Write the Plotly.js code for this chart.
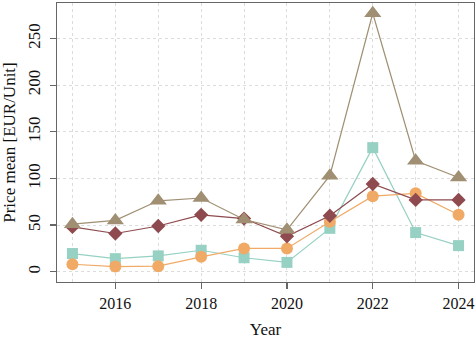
<!DOCTYPE html>
<html>
<head>
<meta charset="utf-8">
<script src="https://cdn.plot.ly/plotly-3.0.1.min.js"></script>
<style>
  html, body { margin: 0; padding: 0; background: #fff; }
  #chart { width: 475px; height: 339px; }
</style>
</head>
<body>
<div id="chart"></div>
<script>
// years on the x axis
const years = [2015, 2016, 2017, 2018, 2019, 2020, 2021, 2022, 2023, 2024];

// price means per series
const triangleSeries = [51, 55, 76, 79, 56, 45, 103, 277, 119, 101];
const diamondSeries = [48, 41, 49, 61, 57, 38, 60, 94, 77, 77];
const squareSeries = [19.5, 14, 17, 23, 15, 10, 46.5, 133, 42, 28];
const circleSeries = [8, 5.5, 6, 16, 25, 25, 53.5, 81, 84, 61];

const xTicks = [2016, 2018, 2020, 2022, 2024];
const yTicks = [0, 50, 100, 150, 200, 250];

const serif = "Liberation Serif, Times New Roman, serif";

function series(y, color, symbol, size) {
  return {
    x: years, y: y,
    type: "scatter", mode: "lines+markers",
    line: { color: color, width: 1.2 },
    marker: { color: color, symbol: symbol, size: size },
    showlegend: false,
    hoverinfo: "skip"
  };
}

const data = [
  series(squareSeries, "#96d1c3", "square", 11),
  series(circleSeries, "#f0aa66", "circle", 12),
  series(diamondSeries, "#8e4a4e", "diamond", 11),
  series(triangleSeries, "#a08f72", "triangle-up", 15)
];

const gridDash = "3px,3px";

const axisCommon = {
  showline: true, mirror: true, linecolor: "#666", linewidth: 1.3,
  ticks: "outside", ticklen: 6, tickcolor: "#666", tickwidth: 1.2,
  showgrid: true, gridcolor: "#dcdcdc", griddash: gridDash, gridwidth: 1,
  zeroline: false
};

const layout = {
  width: 475, height: 339,
  margin: { l: 57, r: 1, t: 3, b: 57 },
  paper_bgcolor: "#fff", plot_bgcolor: "#fff",
  font: { family: serif, color: "#111" },
  xaxis: Object.assign({}, axisCommon, {
    range: [2014.64, 2024.36],
    tickmode: "array", tickvals: xTicks,
    tickfont: { family: serif, size: 16, color: "#111" },
    minor: { dtick: 1, tick0: 2015, showgrid: true, gridcolor: "#dcdcdc", griddash: gridDash, ticks: "" },
    title: { text: "Year", font: { family: serif, size: 17, color: "#111" }, standoff: 12 }
  }),
  yaxis: Object.assign({}, axisCommon, {
    range: [-11, 288],
    tickmode: "array", tickvals: yTicks,
    tickangle: -90,
    ticklabelstandoff: 3,
    tickfont: { family: serif, size: 17, color: "#111" },
    title: { text: "Price mean [EUR/Unit]", font: { family: serif, size: 17, color: "#111" }, standoff: 6 }
  })
};

Plotly.newPlot("chart", data, layout, { staticPlot: true });
</script>
</body>
</html>
